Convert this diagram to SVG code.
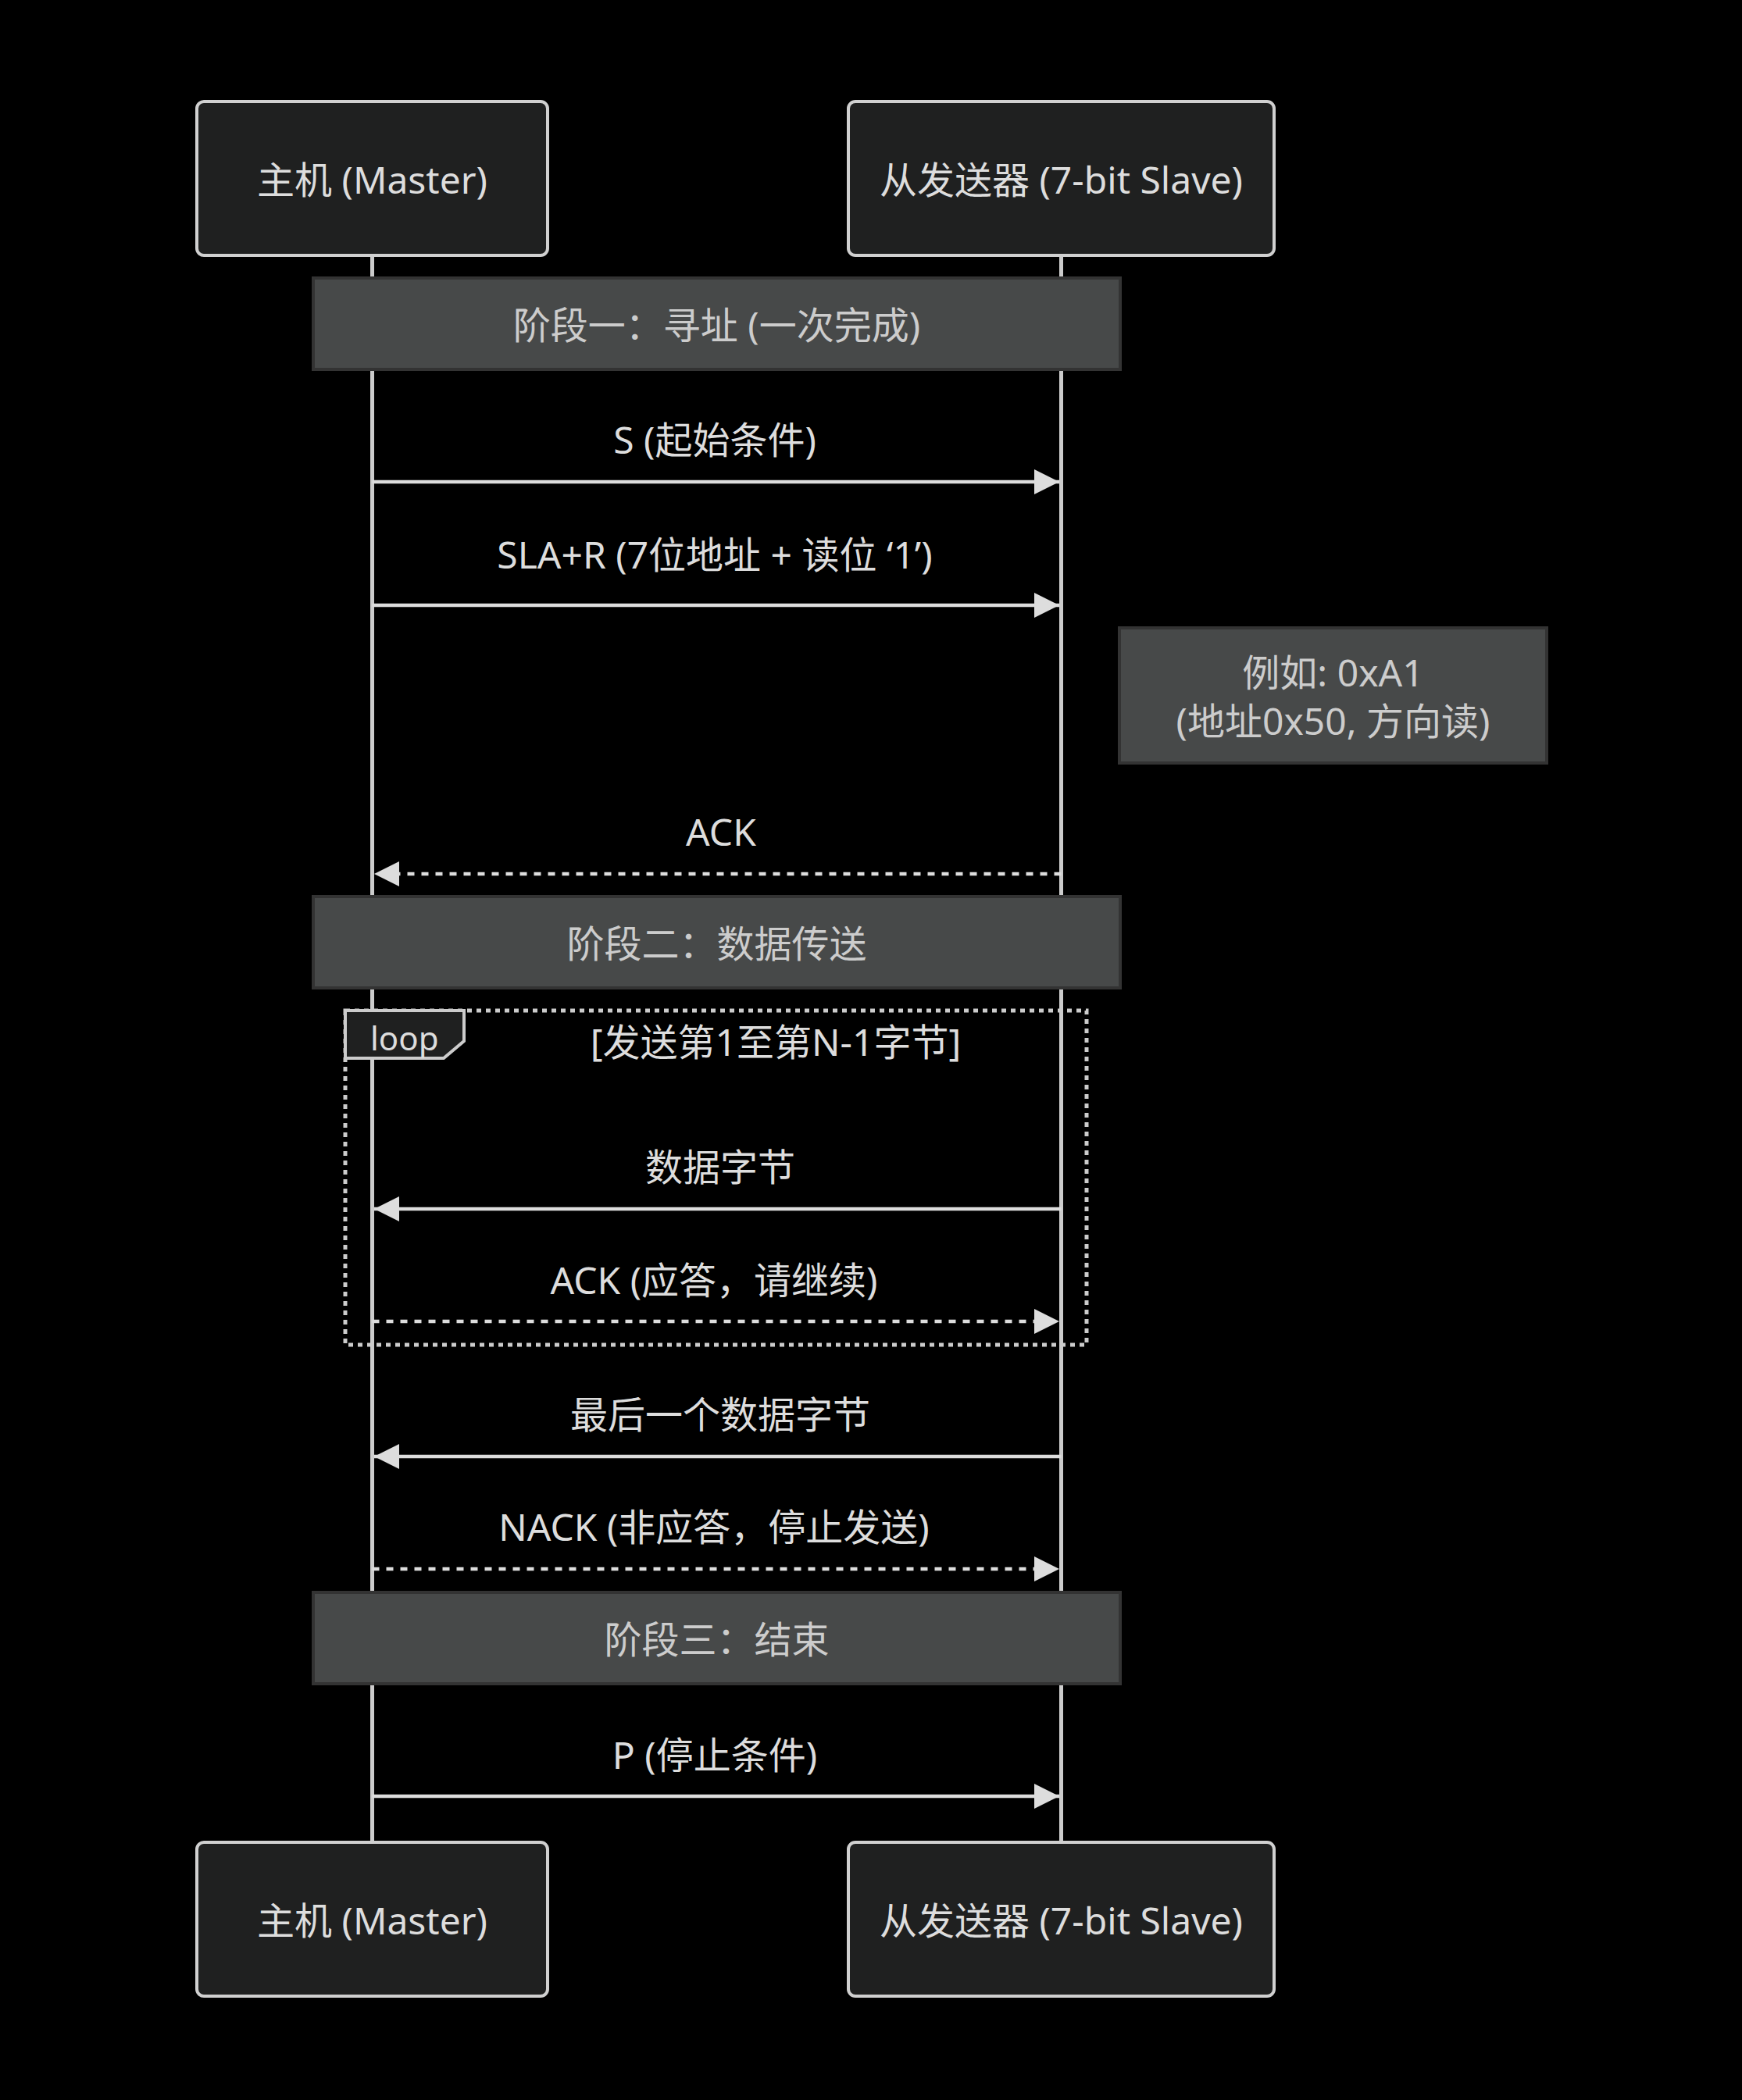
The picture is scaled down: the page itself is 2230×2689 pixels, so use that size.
<svg xmlns="http://www.w3.org/2000/svg" width="2230" height="2689" viewBox="0 0 2230 2689">
<style>
.bg{fill:#000000}
.actor rect{fill:#1f2020;stroke:#d0d0d0;stroke-width:4}
.actor text{fill:#dddddd;font-family:"Noto Sans","Noto Sans CJK SC",sans-serif;font-size:48px;text-anchor:middle;dominant-baseline:central}
.life{stroke:#cccccc;stroke-width:5}
.phase rect,.note rect{fill:#474949;stroke:#333333;stroke-width:4}
.phase text,.note text{fill:#cccccc;font-family:"Noto Sans","Noto Sans CJK SC",sans-serif;font-size:48px;text-anchor:middle;dominant-baseline:central}
.msg{stroke:#dddddd;stroke-width:4.5;fill:none}
.dash{stroke-dasharray:9 9}
.mtext{fill:#dddddd;font-family:"Noto Sans","Noto Sans CJK SC",sans-serif;font-size:48px;text-anchor:middle;dominant-baseline:central}
.loopbox{fill:none;stroke:#cccccc;stroke-width:5;stroke-dasharray:6 6}
.looptag{fill:#1f2020;stroke:#cccccc;stroke-width:4}
.looptext{fill:#dddddd;font-family:"Noto Sans","Noto Sans CJK SC",sans-serif;font-size:42px;dominant-baseline:central}
</style>
<defs>
<marker id="arrow" markerUnits="userSpaceOnUse" markerWidth="32" markerHeight="32" refX="32" refY="16" orient="auto" viewBox="0 0 32 32">
<path d="M0,0 L32,16 L0,32 z" fill="#dddddd"/>
</marker>
</defs>
<rect class="bg" x="0" y="0" width="2230" height="2689"/>

<g id="lifelines">
<line class="life" x1="476.5" y1="327" x2="476.5" y2="2359"/>
<line class="life" x1="1358.5" y1="327" x2="1358.5" y2="2359"/>
</g>

<g id="actor-master-top" class="actor">
<rect x="252" y="130" width="449" height="197" rx="9" ry="9"/>
<text x="476.5" y="229">主机 (Master)</text>
</g>
<g id="actor-slave-top" class="actor">
<rect x="1086" y="130" width="545" height="197" rx="9" ry="9"/>
<text x="1358.5" y="229">从发送器 (7-bit Slave)</text>
</g>

<g id="phase1" class="phase">
<rect x="401" y="356" width="1033" height="117"/>
<text x="917.5" y="415">阶段一：寻址 (一次完成)</text>
</g>

<g id="note-addr" class="note">
<rect x="1433" y="804" width="547" height="173"/>
<text x="1706.5" y="860">例如: 0xA1</text>
<text x="1706.5" y="922">(地址0x50, 方向读)</text>
</g>

<g id="phase2" class="phase">
<rect x="401" y="1148" width="1033" height="117"/>
<text x="917.5" y="1207">阶段二：数据传送</text>
</g>

<g id="loop">
<rect class="loopbox" x="442" y="1294" width="949" height="428"/>
<path class="looptag" d="M442,1294 L594,1294 L594,1333 L568,1355 L442,1355 z"/>
<text class="looptext" x="474" y="1328">loop</text>
<text class="mtext" x="993" y="1333">[发送第1至第N-1字节]</text>
</g>

<g id="phase3" class="phase">
<rect x="401" y="2039" width="1033" height="117"/>
<text x="917.5" y="2098">阶段三：结束</text>
</g>

<g id="connectors">
<line class="msg" x1="476.5" y1="617" x2="1356" y2="617" marker-end="url(#arrow)"/>
<text class="mtext" x="915" y="562">S (起始条件)</text>
<line class="msg" x1="476.5" y1="775" x2="1356" y2="775" marker-end="url(#arrow)"/>
<text class="mtext" x="915" y="709">SLA+R (7位地址 + 读位 ‘1’)</text>
<line class="msg dash" x1="1358.5" y1="1119" x2="479" y2="1119" marker-end="url(#arrow)"/>
<text class="mtext" x="923" y="1064">ACK</text>
<line class="msg" x1="1358.5" y1="1548" x2="479" y2="1548" marker-end="url(#arrow)"/>
<text class="mtext" x="922" y="1493">数据字节</text>
<line class="msg dash" x1="476.5" y1="1692" x2="1356" y2="1692" marker-end="url(#arrow)"/>
<text class="mtext" x="914" y="1638">ACK (应答，请继续)</text>
<line class="msg" x1="1358.5" y1="1865" x2="479" y2="1865" marker-end="url(#arrow)"/>
<text class="mtext" x="922" y="1810">最后一个数据字节</text>
<line class="msg dash" x1="476.5" y1="2009" x2="1356" y2="2009" marker-end="url(#arrow)"/>
<text class="mtext" x="914" y="1954">NACK (非应答，停止发送)</text>
<line class="msg" x1="476.5" y1="2300" x2="1356" y2="2300" marker-end="url(#arrow)"/>
<text class="mtext" x="915" y="2246">P (停止条件)</text>
</g>

<g id="actor-master-bottom" class="actor">
<rect x="252" y="2359" width="449" height="197" rx="9" ry="9"/>
<text x="476.5" y="2458">主机 (Master)</text>
</g>
<g id="actor-slave-bottom" class="actor">
<rect x="1086" y="2359" width="545" height="197" rx="9" ry="9"/>
<text x="1358.5" y="2458">从发送器 (7-bit Slave)</text>
</g>
</svg>
